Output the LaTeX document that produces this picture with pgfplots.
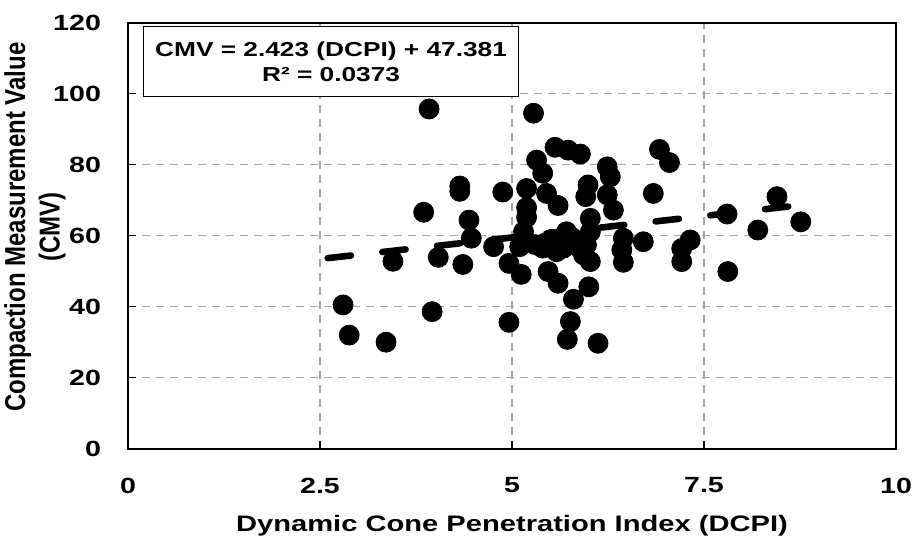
\documentclass[border=0pt]{standalone}
\usepackage{fontspec}
\setmainfont{Liberation Sans}[FakeStretch=1.3]
\newfontfamily\ylabfont{Liberation Sans}
\usepackage{pgfplots}
\pgfplotsset{compat=1.18}
\begin{document}
\begin{tikzpicture}
\begin{axis}[
  at={(0,0)}, anchor=south west,
  scale only axis,
  width=384pt, height=213pt,
  xmin=0, xmax=10, ymin=0, ymax=120,
  xtick={0,2.5,5,7.5,10},
  ytick={0,20,40,60,80,100,120},
  /pgf/number format/assume math mode=true,
  /pgf/number format/fixed,
  tick label style={font=\fontsize{11}{13}\selectfont\bfseries},
  xticklabel style={yshift=-11pt},
  yticklabel style={xshift=-10pt},
  tick align=inside,
  xtick pos=bottom, ytick pos=left,
  major tick length=4pt,
  every tick/.style={black, line width=0.8pt},
  axis line style={line width=1pt},
  grid=major,
  major grid style={gray!70, dash pattern=on 4pt off 3pt, line width=0.7pt},
  xlabel={Dynamic Cone Penetration Index (DCPI)},
  xlabel style={font=\fontsize{11.2}{13}\selectfont\bfseries, at={(axis description cs:0.5,0)}, anchor=north, yshift=-30pt},
  ylabel={\scalebox{1}[1.2]{\begin{tabular}{@{}c@{}}Compaction Measurement Value\\[0pt](CMV)\end{tabular}}},
  ylabel style={font=\ylabfont\fontsize{12}{14.4}\selectfont\bfseries, at={(axis description cs:-0.0664,0.52)}, anchor=south},
  clip=false,
]
\addplot[only marks, mark=*, mark size=5pt, mark options={fill=black, draw=black}] coordinates {
(2.80,40.5) (2.88,32.0) (3.36,30.0) (3.45,52.8) (3.85,66.6) (3.92,95.7)
(3.96,38.6) (4.04,53.9) (4.32,74.0) (4.32,72.5) (4.36,51.9) (4.44,64.4)
(4.47,59.3) (4.76,56.9) (4.88,72.3) (4.96,52.2) (4.96,35.6) (5.12,49.1)
(5.10,56.9) (5.15,61.1) (5.19,65.2) (5.19,67.9) (5.19,73.3) (5.28,94.5)
(5.32,81.3) (5.40,77.6) (5.45,71.9) (5.60,68.5) (5.56,84.9) (5.73,84.1)
(5.89,83.0) (5.99,74.3) (5.96,71.0) (6.24,79.4) (6.28,76.6) (6.24,71.5)
(6.32,67.2) (6.02,64.9) (6.02,61.1) (5.97,57.4) (5.93,54.6) (6.02,52.7)
(6.00,45.6) (5.80,42.1) (5.76,35.8) (5.72,30.8) (6.12,29.7) (5.60,46.6)
(5.47,49.9) (5.43,57.9) (5.63,58.8) (5.71,61.1) (5.58,55.5) (5.30,57.5)
(5.40,56.5) (5.52,59.0) (5.67,56.5) (5.78,59.5) (5.85,57.0) (6.45,59.3)
(6.43,56.0) (6.45,52.5) (6.71,58.3) (6.84,71.9) (6.92,84.3) (7.05,80.6)
(7.21,56.4) (7.21,52.7) (7.32,58.8) (7.80,66.1) (7.81,49.9) (8.20,61.6)
(8.45,71.0) (8.76,63.9)
};
\addplot[black, line width=3.3pt, line cap=round, dash pattern=on 11.7pt off 15.8pt] coordinates {(2.6,53.68) (8.75,68.58)};
\node[draw=black, line width=0.6pt, fill=white, anchor=north west, minimum width=187.5pt, minimum height=35pt, align=center, inner sep=1pt, font=\fontsize{10.1}{12.6}\selectfont\bfseries] at (axis cs:0.195,119.1) {CMV = 2.423 (DCPI) + 47.381\\R² = 0.0373};
\end{axis}
\pgfresetboundingbox
\path (-64pt,-45.15pt) rectangle (393pt,224.35pt);
\end{tikzpicture}
\end{document}
